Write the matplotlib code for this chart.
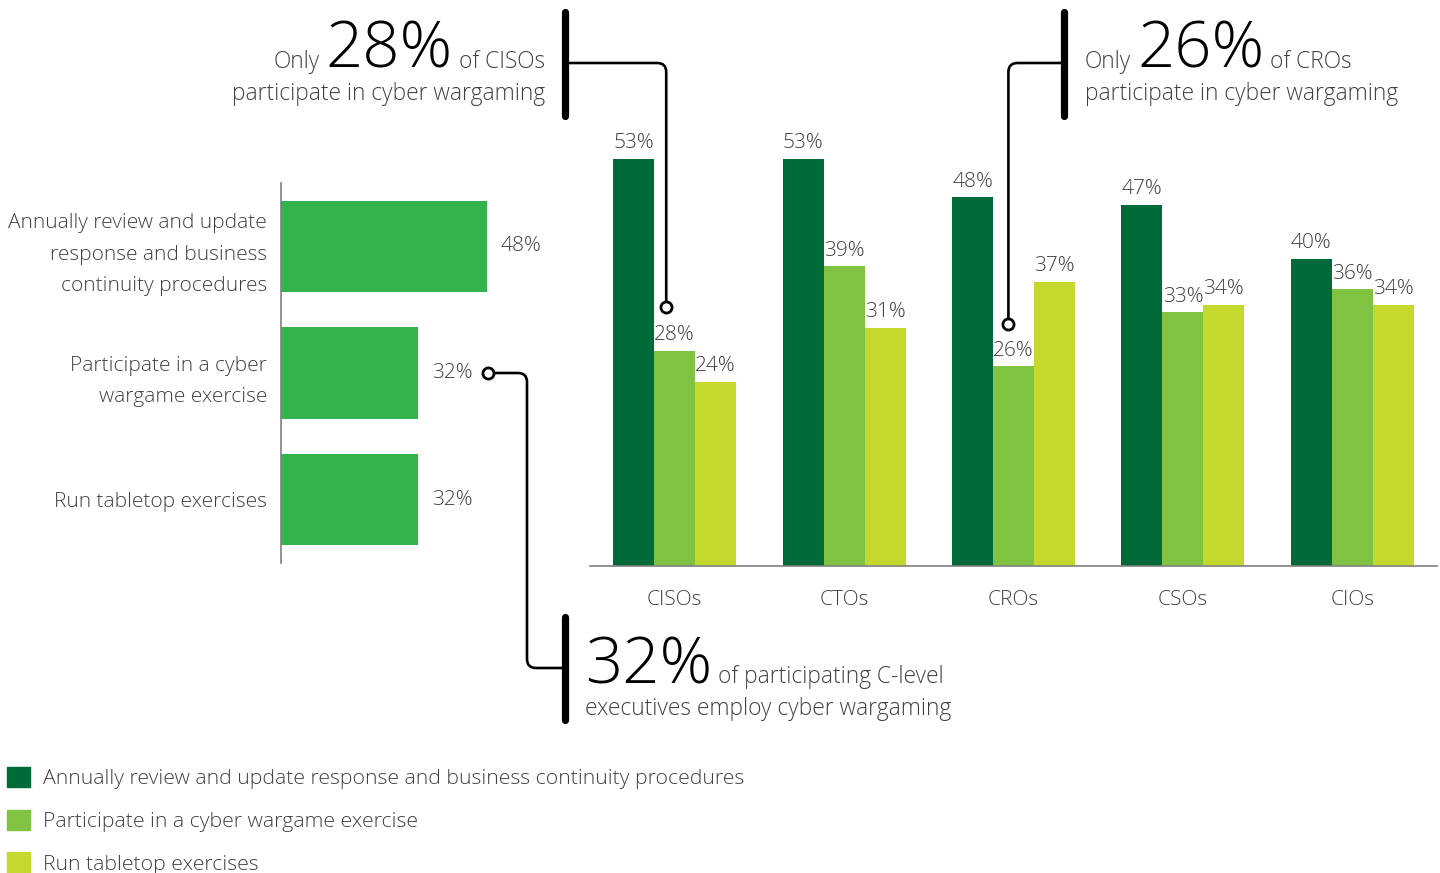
import matplotlib
matplotlib.use('Agg')
import matplotlib.pyplot as plt
from matplotlib.patches import Patch, PathPatch
from matplotlib.path import Path
import numpy as np

plt.rcParams['font.family'] = ['Open Sans', 'DejaVu Sans']
plt.rcParams['font.weight'] = 'light'

# data
roles = ['CISOs', 'CTOs', 'CROs', 'CSOs', 'CIOs']
review = [53, 53, 48, 47, 40]
wargame = [28, 39, 26, 33, 36]
tabletop = [24, 31, 37, 34, 34]
series_names = ['Annually review and update response and business continuity procedures',
                'Participate in a cyber wargame exercise',
                'Run tabletop exercises']
overall_labels = ['Annually review and update\nresponse and business\ncontinuity procedures',
                  'Participate in a cyber\nwargame exercise',
                  'Run tabletop exercises']
overall = [48, 32, 32]

DARK = '#006a38'
MID = '#80c241'
LIGHT = '#c5d82e'
BRIGHT = '#33b34b'
TXT = '#404040'
AXIS = '#808080'

W, H = 1440, 873
fig = plt.figure(figsize=(14.4, 8.73), dpi=100)


def frame(l, t, r, b):
    return [l / W, 1 - b / H, (r - l) / W, (b - t) / H]


# left: overall horizontal bars
axl = fig.add_axes(frame(281, 183, 581, 563))
yy = np.arange(len(overall))
bars_l = axl.barh(yy, overall, height=0.72, color=BRIGHT)
axl.set_ylim(2.5, -0.5)
axl.set_xlim(0, 70)
axl.set_yticks(yy)
axl.set_yticklabels(overall_labels, fontsize=15, color=TXT)
for lab in axl.get_yticklabels():
    lab.set_linespacing(1.78)
    lab.set_multialignment('right')
axl.tick_params(axis='y', length=0, pad=10)
axl.set_xticks([])
for s in ['top', 'right', 'bottom']:
    axl.spines[s].set_visible(False)
axl.spines['left'].set_color(AXIS)
axl.spines['left'].set_linewidth(1.2)
axl.bar_label(bars_l, labels=[f'{v}%' for v in overall], padding=10,
              fontsize=15, color=TXT)

# right: grouped bars by role
axr = fig.add_axes(frame(590, 105, 1437, 566))
x = np.arange(len(roles))
bw = 0.242
groups = [review, wargame, tabletop]
colors = [DARK, MID, LIGHT]
for k, (vals, c) in enumerate(zip(groups, colors)):
    b = axr.bar(x + (k - 1) * bw, vals, width=bw, color=c)
    axr.bar_label(b, labels=[f'{v}%' for v in vals], padding=4, fontsize=15, color=TXT)
axr.set_xlim(-0.5, 4.5)
axr.set_ylim(0, 60)
axr.set_xticks(x)
axr.set_xticklabels(roles, fontsize=15, color=TXT)
axr.tick_params(axis='x', length=0, pad=17)
axr.set_yticks([])
for s in ['top', 'right', 'left']:
    axr.spines[s].set_visible(False)
axr.spines['bottom'].set_color(AXIS)
axr.spines['bottom'].set_linewidth(1.2)

# overlay for callouts, in pixel units
ov = fig.add_axes([0, 0, 1, 1], zorder=5)
ov.set_xlim(0, W)
ov.set_ylim(H, 0)
ov.axis('off')
ov.patch.set_visible(False)


def to_px(ax, xv, yv):
    dx, dy = ax.transData.transform((xv, yv))
    return dx, H - dy


def rounded(points, r=9):
    verts = [points[0]]
    codes = [Path.MOVETO]
    for i in range(1, len(points) - 1):
        p0, p1, p2 = (np.array(p, float) for p in points[i - 1:i + 2])
        d0 = (p1 - p0) / np.linalg.norm(p1 - p0)
        d1 = (p2 - p1) / np.linalg.norm(p2 - p1)
        verts += [tuple(p1 - d0 * r), tuple(p1), tuple(p1 + d1 * r)]
        codes += [Path.LINETO, Path.CURVE3, Path.CURVE3]
    verts.append(points[-1])
    codes.append(Path.LINETO)
    return Path(verts, codes)


def connector(points):
    ov.add_patch(PathPatch(rounded(points), fill=False, lw=1.9, ec='black', zorder=3))
    ov.plot(*points[0], marker='o', ms=8, mfc='white', mec='black', mew=2, zorder=4)


def thick(xp, y0, y1):
    ov.plot([xp, xp], [y0, y1], color='black', lw=5.2, solid_capstyle='round')


fig.canvas.draw()
renderer = fig.canvas.get_renderer()

SMALL = 16.4
BIG = 47


def pieces(items, xp, yb, align='left', gap=6):
    # items: list of (text, size); baseline at yb
    cur = xp
    seq = items if align == 'left' else items[::-1]
    for t, sz in seq:
        tx = ov.text(cur, yb, t, fontsize=sz, color='black' if sz > 30 else TXT,
                     ha=align, va='baseline')
        bb = tx.get_window_extent(renderer)
        cur = cur + bb.width + gap if align == 'left' else cur - bb.width - gap


# callout: CISOs
cx, cy = to_px(axr, x[0] - 0.05, wargame[0] + 5.7)
thick(565, 12, 116)
connector([(cx, cy), (cx, 63), (565, 63)])
pieces([('Only', SMALL), ('28%', BIG), ('of CISOs', SMALL)], 545, 68, align='right')
ov.text(545, 100, 'participate in cyber wargaming', fontsize=SMALL, color=TXT,
        ha='right', va='baseline')

# callout: CROs
cx, cy = to_px(axr, x[2] - 0.03, wargame[2] + 5.5)
thick(1064, 12, 116)
connector([(cx, cy), (cx, 63), (1064, 63)])
pieces([('Only', SMALL), ('26%', BIG), ('of CROs', SMALL)], 1085, 68, align='left')
ov.text(1085, 100, 'participate in cyber wargaming', fontsize=SMALL, color=TXT,
        ha='left', va='baseline')

# callout: overall wargame
cx, cy = to_px(axl, overall[1] + 16.3, yy[1])
thick(565, 617, 720)
connector([(cx, cy), (527, cy), (527, 668), (565, 668)])
pieces([('32%', BIG), ('of participating C-level', SMALL)], 585, 683, align='left')
ov.text(585, 715, 'executives employ cyber wargaming', fontsize=SMALL, color=TXT,
        ha='left', va='baseline')

# legend
handles = [Patch(color=c) for c in colors]
fig.legend(handles, series_names, loc='upper left', bbox_to_anchor=(7 / W, 1 - 767 / H),
           frameon=False, fontsize=15.3, labelcolor=TXT, handlelength=1.1,
           handleheight=1.1, handletextpad=0.6, labelspacing=0.95, borderpad=0,
           borderaxespad=0)

fig.savefig('out.png', dpi=100)
